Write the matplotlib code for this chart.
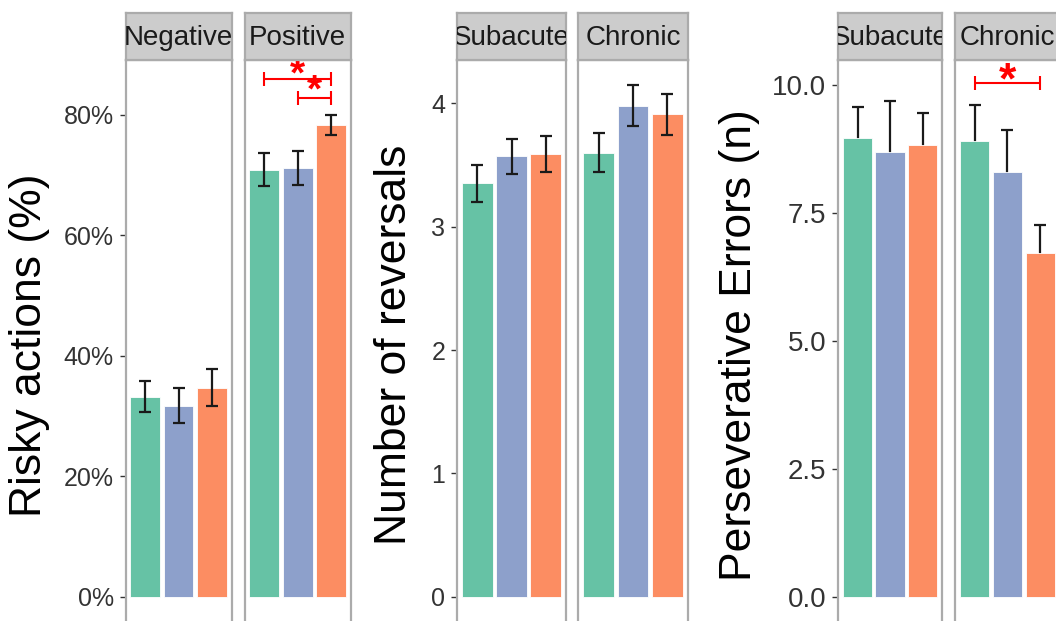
import matplotlib
matplotlib.use("Agg")
import matplotlib.pyplot as plt
from matplotlib.ticker import PercentFormatter, FormatStrFormatter
from matplotlib.transforms import offset_copy

plt.rcParams['font.family'] = ['Liberation Sans', 'DejaVu Sans']

# colours of the three groups (Set2)
colors = ['#66C2A5', '#8DA0CB', '#FC8D62']
groups = [1, 2, 3]

# Risky actions (fraction)
risky_facets = ['Negative', 'Positive']
risky_mean = [[0.332, 0.317, 0.347], [0.709, 0.712, 0.783]]
risky_se = [[0.026, 0.029, 0.031], [0.027, 0.028, 0.017]]
risky_ticks = [0, 0.2, 0.4, 0.6, 0.8]

# Number of reversals
rev_facets = ['Subacute', 'Chronic']
rev_mean = [[3.35, 3.57, 3.59], [3.60, 3.98, 3.91]]
rev_se = [[0.148, 0.143, 0.147], [0.157, 0.165, 0.165]]
rev_ticks = [0, 1, 2, 3, 4]

# Perseverative errors
pers_facets = ['Subacute', 'Chronic']
pers_mean = [[8.96, 8.70, 8.83], [8.91, 8.29, 6.71]]
pers_se = [[0.60, 0.99, 0.63], [0.69, 0.83, 0.55]]
pers_ticks = [0, 2.5, 5.0, 7.5, 10.0]

# significance: (facet, x from, x to, bracket y, star y)
risky_sig = [(1, 1, 3, 0.859, 0.886), (1, 2, 3, 0.828, 0.859)]
pers_sig = [(1, 1, 3, 10.04, 10.33)]

W, H = 1056, 621
fig = plt.figure(figsize=(W / 100, H / 100), dpi=100)


def rect(x0, x1, y0, y1):
    return [x0 / W, 1 - y1 / H, (x1 - x0) / W, (y1 - y0) / H]


def panel(xpos, facets, means, ses, ylim, ticks, fmt, ylabel, label_x,
          tick_fs, err_behind, sig, star_fs):
    for i, (x0, x1) in enumerate(xpos):
        ax = fig.add_axes(rect(x0, x1, 59.5, 622.5))
        ax.bar(groups, means[i], width=0.9, color=colors,
               edgecolor='white', linewidth=0.6, zorder=2)
        ax.errorbar(groups, means[i], yerr=ses[i], fmt='none',
                    ecolor='#1A1A1A', elinewidth=1.6, capsize=4,
                    capthick=1.6, zorder=1 if err_behind else 3)
        ax.set_xlim(0.4, 3.6)
        ax.set_ylim(ylim)
        ax.set_xticks([])
        ax.set_yticks(ticks)
        ax.yaxis.set_major_formatter(fmt)
        for s in ax.spines.values():
            s.set_color('#ABABAB')
            s.set_linewidth(1.6)
        if i == 0:
            ax.tick_params(axis='y', length=4.5, width=1, color='#333333',
                           labelcolor='#333333', labelsize=tick_fs, pad=4)
        else:
            ax.tick_params(axis='y', left=False, labelleft=False)

        for f, a, b, yb, ys in sig:
            if f != i:
                continue
            ax.errorbar((a + b) / 2, yb, xerr=(b - a) / 2, fmt='none',
                        ecolor='red', elinewidth=1.5, capsize=5,
                        capthick=1.5, zorder=4)
            tr = offset_copy(ax.transData, fig=fig, y=-0.57 * star_fs,
                             units='points')
            ax.text((a + b) / 2, ys, '*', color='red', fontsize=star_fs,
                    fontweight='bold', ha='center', va='baseline',
                    transform=tr, zorder=5)

        st = fig.add_axes(rect(x0, x1, 12.5, 59.5))
        st.set_facecolor('#CCCCCC')
        st.set_xticks([])
        st.set_yticks([])
        for s in st.spines.values():
            s.set_color('#ABABAB')
            s.set_linewidth(1.6)
        st.text(0.5, 0.45, facets[i], ha='center', va='center',
                fontsize=20, color='#1A1A1A', transform=st.transAxes,
                clip_on=True)

    fig.text(label_x / W, 1 - 345 / H, ylabel, rotation=90, ha='center',
             va='center', fontsize=32, color='black')


panel([(125.5, 231.5), (244.5, 351)], risky_facets, risky_mean, risky_se,
      (-0.0429, 0.892), risky_ticks, PercentFormatter(xmax=1, decimals=0),
      'Risky actions (%)', 30, 18, False, risky_sig, 28)

panel([(457, 566), (578, 688)], rev_facets, rev_mean, rev_se,
      (-0.209, 4.355), rev_ticks, FormatStrFormatter('%d'),
      'Number of reversals', 395, 18, False, [], 28)

panel([(838, 942), (955, 1060)], pers_facets, pers_mean, pers_se,
      (-0.504, 10.498), pers_ticks, FormatStrFormatter('%.1f'),
      'Perseverative Errors (n)', 740, 20, True, pers_sig, 32)

fig.savefig('out.png', dpi=100)
